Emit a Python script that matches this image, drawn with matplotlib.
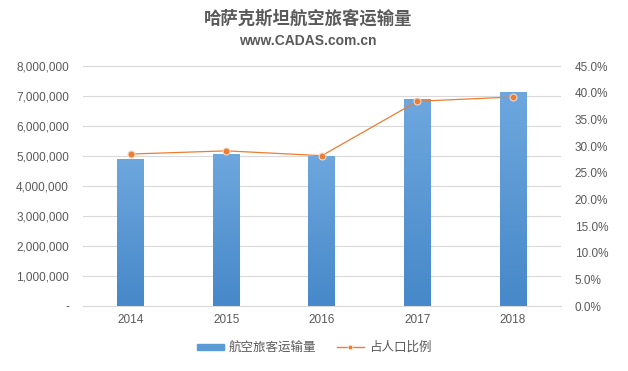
import matplotlib
matplotlib.use("Agg")
import matplotlib.pyplot as plt
from matplotlib.ticker import FuncFormatter, MultipleLocator
from matplotlib.colors import LinearSegmentedColormap
import matplotlib.lines as mlines
import matplotlib.patches as mpatches
import numpy as np

plt.rcParams["font.family"] = ["Liberation Sans", "Noto Sans CJK SC", "DejaVu Sans"]

years = ["2014", "2015", "2016", "2017", "2018"]
passengers = [4900000, 5080000, 5000000, 6900000, 7130000]
pop_share = [28.5, 29.1, 28.2, 38.4, 39.2]

TXT = "#595959"
BAR = "#5b9bd5"
LINE = "#ed7d31"
GRID = "#d9d9d9"

fig = plt.figure(figsize=(6.28, 3.71), dpi=100)
ax = fig.add_axes([0.132, 0.175, 0.761, 0.647])
ax2 = ax.twinx()

x = range(len(years))
bars = ax.bar(x, passengers, width=0.28, color=BAR, zorder=2)
ax.set_ylim(0, 8000000)
ax.set_xlim(-0.5, len(years) - 0.5)

# vertical gradient inside each bar (darker at the base)
cmap = LinearSegmentedColormap.from_list("bar", ["#4688c9", "#6ea7de"])
grad = np.linspace(0, 1, 256).reshape(-1, 1)
for b in bars:
    bx, bw, bh = b.get_x(), b.get_width(), b.get_height()
    im = ax.imshow(grad, cmap=cmap, origin="lower", aspect="auto",
                   extent=[bx, bx + bw, 0, bh], zorder=2)
    im.set_clip_path(b)
    b.set_facecolor("none")
ax.set_xlim(-0.5, len(years) - 0.5)
ax.set_ylim(0, 8000000)

ax.yaxis.set_major_locator(MultipleLocator(1000000))
ax.yaxis.set_major_formatter(FuncFormatter(lambda v, p: "-" if v == 0 else f"{int(v):,}"))
ax.grid(axis="y", color=GRID, linewidth=0.8, zorder=0)
ax.set_axisbelow(True)
ax.set_xticks(list(x))
ax.set_xticklabels(years)

ax2.plot(list(x), pop_share, color=LINE, linewidth=0.9, marker="o", markersize=5,
         markerfacecolor=LINE, markeredgecolor="#f4d9c8", markeredgewidth=0.8, zorder=3)
ax2.set_ylim(0, 45)
ax2.yaxis.set_major_locator(MultipleLocator(5))
ax2.yaxis.set_major_formatter(FuncFormatter(lambda v, p: f"{v:.1f}%"))

for a in (ax, ax2):
    for s in a.spines.values():
        s.set_visible(False)
    a.tick_params(length=0, colors=TXT, labelsize=8.5)
ax.spines["bottom"].set_visible(True)
ax.spines["bottom"].set_color(GRID)
ax.tick_params(axis="y", pad=10)
ax.tick_params(axis="x", pad=6)
ax2.tick_params(axis="y", pad=10)

fig.text(0.49, 0.952, "哈萨克斯坦航空旅客运输量", ha="center", va="center",
         fontsize=12.5, fontweight="bold", color=TXT)
fig.text(0.49, 0.889, "www.CADAS.com.cn", ha="center", va="center",
         fontsize=10, fontweight="bold", color=TXT)

h1 = mpatches.Patch(color=BAR, label="航空旅客运输量")
h2 = mlines.Line2D([], [], color=LINE, linewidth=1.0, marker="o", markersize=3.5,
                   markeredgecolor="white", markeredgewidth=0.5, label="占人口比例")
leg = fig.legend(handles=[h1, h2], loc="center", bbox_to_anchor=(0.5, 0.062), ncol=2,
                 frameon=False, fontsize=9, handlelength=2.2, handleheight=0.35,
                 columnspacing=1.6, handletextpad=0.4)
for t in leg.get_texts():
    t.set_color(TXT)

fig.savefig("out.png", dpi=100)
